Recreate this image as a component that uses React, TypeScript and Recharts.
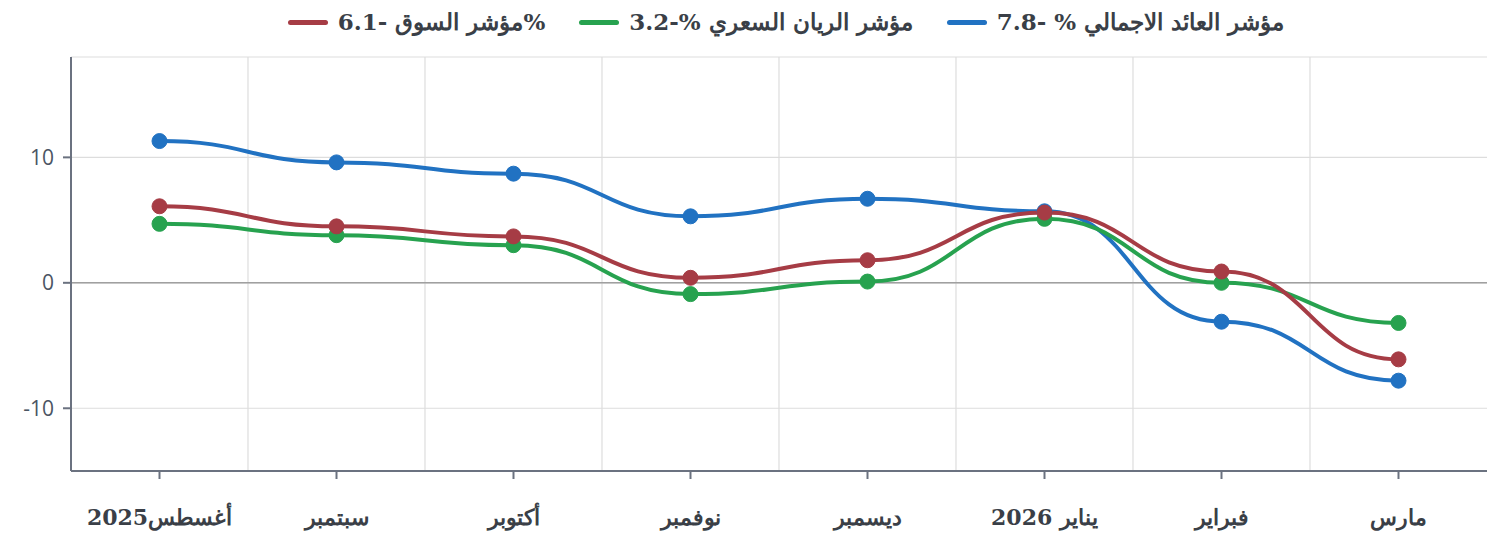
import React from 'react';
import {
  CartesianGrid,
  Line,
  LineChart,
  ReferenceLine,
  XAxis,
  YAxis,
} from 'recharts';

const BLUE = '#2172c2';
const GREEN = '#27a24f';
const RED = '#a63c45';

const months = ['أغسطس2025', 'سبتمبر', 'أكتوبر', 'نوفمبر', 'ديسمبر', 'يناير 2026', 'فبراير', 'مارس'];
const totalReturn = [11.3, 9.6, 8.7, 5.3, 6.7, 5.7, -3.1, -7.8];
const rayanPrice = [4.7, 3.8, 3.0, -0.9, 0.1, 5.1, 0.0, -3.2];
const marketIndex = [6.1, 4.5, 3.7, 0.4, 1.8, 5.6, 0.9, -6.1];
const yTicks = [-10, 0, 10];

const series = [
  { key: 'total', name: 'مؤشر العائد الاجمالي % -7.8', color: BLUE },
  { key: 'rayan', name: 'مؤشر الريان السعري %-3.2', color: GREEN },
  { key: 'market', name: '%مؤشر السوق -6.1', color: RED },
];

const data = months.map((m, i) => ({
  month: m,
  total: totalReturn[i],
  rayan: rayanPrice[i],
  market: marketIndex[i],
}));

const SERIF = '"DejaVu Serif", "Liberation Serif", serif';

function ChartLegend() {
  return (
    <div
      style={{
        position: 'absolute',
        left: 71,
        top: 8,
        width: 1430,
        display: 'flex',
        direction: 'rtl',
        justifyContent: 'center',
        gap: 34,
        fontFamily: SERIF,
        fontSize: 23,
        fontWeight: 700,
        lineHeight: '28px',
        color: '#3a3f47',
      }}
    >
      {series.map((s) => (
        <div key={s.key} style={{ direction: 'ltr', display: 'flex', alignItems: 'center', gap: 10 }}>
          <span style={{ width: 40, height: 5, borderRadius: 3, background: s.color, display: 'inline-block' }} />
          <span dir="rtl">{s.name}</span>
        </div>
      ))}
    </div>
  );
}

// grid lines sit between the categories
const midGrid = ({ offset }: any) => {
  const n = months.length;
  const band = offset.width / n;
  return Array.from({ length: n - 1 }, (_, i) => offset.left + band * (i + 1));
};

export default function App() {
  return (
    <div style={{ position: 'absolute', left: 0, top: 0, width: 1497, height: 542, background: '#fff' }}>
      <LineChart width={1497} height={542} data={data} margin={{ top: 57, right: 10, bottom: 11, left: 11 }}>
        <CartesianGrid stroke="#dddddd" strokeWidth={1.2} verticalCoordinatesGenerator={midGrid} />
        <ReferenceLine y={0} stroke="#a0a0a0" strokeWidth={1.5} />
        <XAxis
          dataKey="month"
          height={60}
          padding={{ left: 88.5, right: 88.5 }}
          stroke="#6b7280"
          strokeWidth={2}
          tickSize={8}
          tickMargin={30}
          tick={{ fontSize: 22, fontFamily: SERIF, fontWeight: 700, fill: '#3a3f47' }}
        />
        <YAxis
          domain={[-15, 18]}
          ticks={yTicks}
          width={60}
          stroke="#6b7280"
          strokeWidth={2}
          tickSize={8}
          tickMargin={9}
          tick={{ fontSize: 21, fontFamily: '"Open Sans", sans-serif', fill: '#4b5563' }}
        />
        {series.map((s) => (
          <Line
            key={s.key}
            type="bumpX"
            dataKey={s.key}
            name={s.name}
            stroke={s.color}
            strokeWidth={4}
            dot={{ r: 7.5, fill: s.color, stroke: s.color, strokeWidth: 1 }}
            isAnimationActive={false}
          />
        ))}
      </LineChart>
      <ChartLegend />
    </div>
  );
}
